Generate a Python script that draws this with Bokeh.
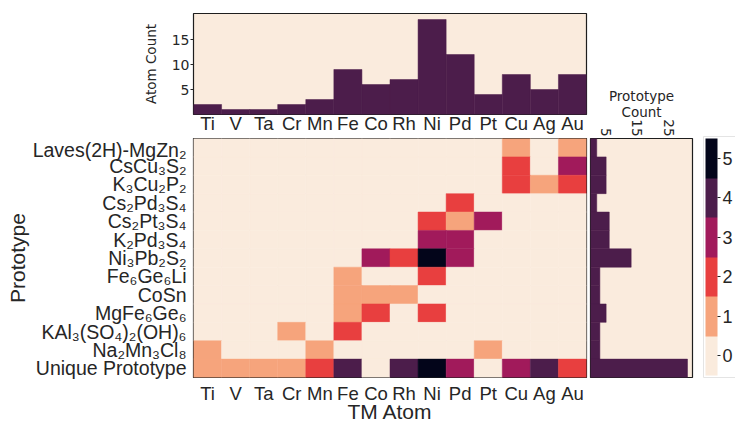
import numpy as np
from bokeh.plotting import figure
from bokeh.layouts import row, column
from bokeh.models import (ColumnDataSource, LinearColorMapper, ColorBar,
                          FixedTicker, Range1d, FactorRange)
from bokeh.embed import file_html
from bokeh.resources import INLINE

# ---------------- data ----------------
tm_atoms = ["Ti", "V", "Ta", "Cr", "Mn", "Fe", "Co", "Rh", "Ni", "Pd", "Pt", "Cu", "Ag", "Au"]
prototypes = ["Laves(2H)-MgZn₂", "CsCu₃S₂", "K₃Cu₂P₂", "Cs₂Pd₃S₄", "Cs₂Pt₃S₄",
              "K₂Pd₃S₄", "Ni₃Pb₂S₂", "Fe₆Ge₆Li", "CoSn", "MgFe₆Ge₆",
              "KAl₃(SO₄)₂(OH)₆", "Na₂Mn₃Cl₈", "Unique Prototype"]

# counts per prototype row, in tm_atoms order
laves_row     = [0, 0, 0, 0, 0, 0, 0, 0, 0, 0, 0, 1, 0, 1]
cscu3s2_row   = [0, 0, 0, 0, 0, 0, 0, 0, 0, 0, 0, 2, 0, 3]
k3cu2p2_row   = [0, 0, 0, 0, 0, 0, 0, 0, 0, 0, 0, 2, 1, 2]
cs2pd3s4_row  = [0, 0, 0, 0, 0, 0, 0, 0, 0, 2, 0, 0, 0, 0]
cs2pt3s4_row  = [0, 0, 0, 0, 0, 0, 0, 0, 2, 1, 3, 0, 0, 0]
k2pd3s4_row   = [0, 0, 0, 0, 0, 0, 0, 0, 3, 3, 0, 0, 0, 0]
ni3pb2s2_row  = [0, 0, 0, 0, 0, 0, 3, 2, 5, 3, 0, 0, 0, 0]
fe6ge6li_row  = [0, 0, 0, 0, 0, 1, 0, 0, 2, 0, 0, 0, 0, 0]
cosn_row      = [0, 0, 0, 0, 0, 1, 1, 1, 0, 0, 0, 0, 0, 0]
mgfe6ge6_row  = [0, 0, 0, 0, 0, 1, 2, 0, 2, 0, 0, 0, 0, 0]
kal3_row      = [0, 0, 0, 1, 0, 2, 0, 0, 0, 0, 0, 0, 0, 0]
na2mn3cl8_row = [1, 0, 0, 0, 1, 0, 0, 0, 0, 0, 1, 0, 0, 0]
unique_row    = [1, 1, 1, 1, 2, 4, 0, 4, 5, 3, 0, 3, 4, 2]

atom_count = [2, 1, 1, 2, 3, 9, 6, 7, 19, 12, 4, 8, 5, 8]
prototype_count = [2, 5, 5, 2, 6, 6, 13, 3, 3, 5, 3, 3, 31]

atom_ticks = [5, 10, 15]
proto_ticks = [5, 15, 25]
color_ticks = [0, 1, 2, 3, 4, 5]

# ---------------- style ----------------
ARIAL = "Liberation Sans"
DEJA = "DejaVu Sans"
TXT = "#262626"
FRAME = "#1e1e1e"
colors = ["#FAEBDD", "#F6A47C", "#E83F3F", "#A11A5B", "#4C1D4B", "#03051A"]
mapper = LinearColorMapper(palette=colors, low=-0.5, high=5.5)

rows = [laves_row, cscu3s2_row, k3cu2p2_row, cs2pd3s4_row, cs2pt3s4_row, k2pd3s4_row,
        ni3pb2s2_row, fe6ge6li_row, cosn_row, mgfe6ge6_row, kal3_row, na2mn3cl8_row, unique_row]
xs, ys, vs = [], [], []
for proto, r in zip(prototypes, rows):
    for tm, v in zip(tm_atoms, r):
        xs.append(tm); ys.append(proto); vs.append(v)
heat_src = ColumnDataSource(dict(x=xs, y=ys, v=vs))

x_range = FactorRange(factors=tm_atoms)
y_range = FactorRange(factors=list(reversed(prototypes)))

TOTAL_H = 439
TOP_H = 138
BORDER_TOP = 138
BORDER_BOTTOM = 62
LEFT_W = 588


def clean(p):
    p.xgrid.visible = False
    p.ygrid.visible = False
    p.outline_line_color = FRAME
    p.outline_line_width = 1.2
    p.outline_line_alpha = 1.0
    p.border_fill_color = "white"
    for ax in p.axis:
        ax.axis_line_color = None
        ax.major_tick_line_color = None
        ax.minor_tick_line_color = None
        ax.major_tick_out = 0
        ax.major_tick_in = 0
        ax.major_label_text_color = TXT
        ax.axis_label_text_color = TXT
        ax.axis_label_text_font_style = "normal"


# ---------------- top: atom count ----------------
top = figure(width=LEFT_W, height=TOP_H, x_range=x_range, y_range=Range1d(0, 20.2),
             output_backend="svg", toolbar_location=None,
             min_border_left=193, min_border_right=2, min_border_top=13, min_border_bottom=24)
top.vbar(x=tm_atoms, top=atom_count, width=1.0, fill_color=colors[4], line_color=colors[4], line_width=0.5)
top.background_fill_color = colors[0]
clean(top)
top.xaxis.major_label_text_font = ARIAL
top.xaxis.major_label_text_font_size = "18.5px"
top.xaxis.major_label_standoff = -2
top.yaxis.ticker = FixedTicker(ticks=atom_ticks)
top.yaxis.major_tick_line_color = TXT
top.yaxis.major_tick_out = 3
top.yaxis.major_label_standoff = 1
top.yaxis.major_label_text_font = DEJA
top.yaxis.major_label_text_font_size = "14px"
top.yaxis.axis_label = "Atom Count"
top.yaxis.axis_label_text_font = DEJA
top.yaxis.axis_label_text_font_size = "13.5px"
top.yaxis.axis_label_standoff = 10

# ---------------- heatmap ----------------
heat = figure(width=LEFT_W, height=TOTAL_H - TOP_H, x_range=x_range, y_range=y_range,
              output_backend="svg", toolbar_location=None,
              min_border_left=193, min_border_right=2, min_border_top=0,
              min_border_bottom=BORDER_BOTTOM)
heat.rect(x="x", y="y", width=1, height=1, source=heat_src,
          fill_color={"field": "v", "transform": mapper},
          line_color={"field": "v", "transform": mapper}, line_width=0.5)
clean(heat)
heat.xaxis.major_label_text_font = ARIAL
heat.xaxis.major_label_text_font_size = "18.5px"
heat.xaxis.major_label_standoff = 5
heat.xaxis.axis_label = "TM Atom"
heat.xaxis.axis_label_text_font = ARIAL
heat.xaxis.axis_label_text_font_size = "21px"
heat.xaxis.axis_label_standoff = -7
heat.yaxis.major_label_text_font = ARIAL
heat.yaxis.major_label_text_font_size = "19.5px"
heat.yaxis.major_label_standoff = 7
heat.yaxis.axis_label = "Prototype"
heat.yaxis.axis_label_text_font = ARIAL
heat.yaxis.axis_label_text_font_size = "21px"
heat.yaxis.axis_label_standoff = 1

# ---------------- right: prototype count ----------------
side = figure(width=112, height=TOTAL_H, x_range=Range1d(0, 32.6), y_range=y_range,
              x_axis_location="above", output_backend="svg", toolbar_location=None,
              min_border_left=2, min_border_right=8, min_border_top=BORDER_TOP,
              min_border_bottom=BORDER_BOTTOM)
side.hbar(y=prototypes, right=prototype_count, height=1.0, fill_color=colors[4],
          line_color=colors[4], line_width=0.5)
side.background_fill_color = colors[0]
clean(side)
side.yaxis.visible = False
side.xaxis.ticker = FixedTicker(ticks=proto_ticks)
side.xaxis.major_label_orientation = -np.pi / 2
side.xaxis.major_label_text_font = DEJA
side.xaxis.major_label_text_font_size = "13.5px"
side.xaxis.major_label_standoff = 2
side.xaxis.axis_label = "Prototype\nCount"
side.xaxis.axis_label_text_font = DEJA
side.xaxis.axis_label_text_font_size = "13.5px"
side.xaxis.axis_label_text_line_height = 1.0
side.xaxis.axis_label_standoff = -4

# ---------------- colorbar ----------------
cbf = figure(width=35, height=TOTAL_H, output_backend="svg", toolbar_location=None,
             min_border_left=0, min_border_right=0, min_border_top=BORDER_TOP,
             min_border_bottom=BORDER_BOTTOM)
cbf.xaxis.visible = False
cbf.yaxis.visible = False
cbf.xgrid.visible = False
cbf.ygrid.visible = False
cbf.outline_line_color = None
cb = ColorBar(color_mapper=mapper, ticker=FixedTicker(ticks=color_ticks),
              width=12, height=237, location=(3, 0), padding=2,
              border_line_color="#e4e4e4", background_fill_color="white",
              bar_line_color=None, major_tick_line_color=TXT,
              major_tick_out=3, major_tick_in=0, label_standoff=2,
              major_label_text_font=ARIAL, major_label_text_font_size="18px",
              major_label_text_color=TXT)
cbf.add_layout(cb)

layout = row(column(top, heat), side, cbf)

open("out.html", "w").write(file_html(layout, INLINE))
